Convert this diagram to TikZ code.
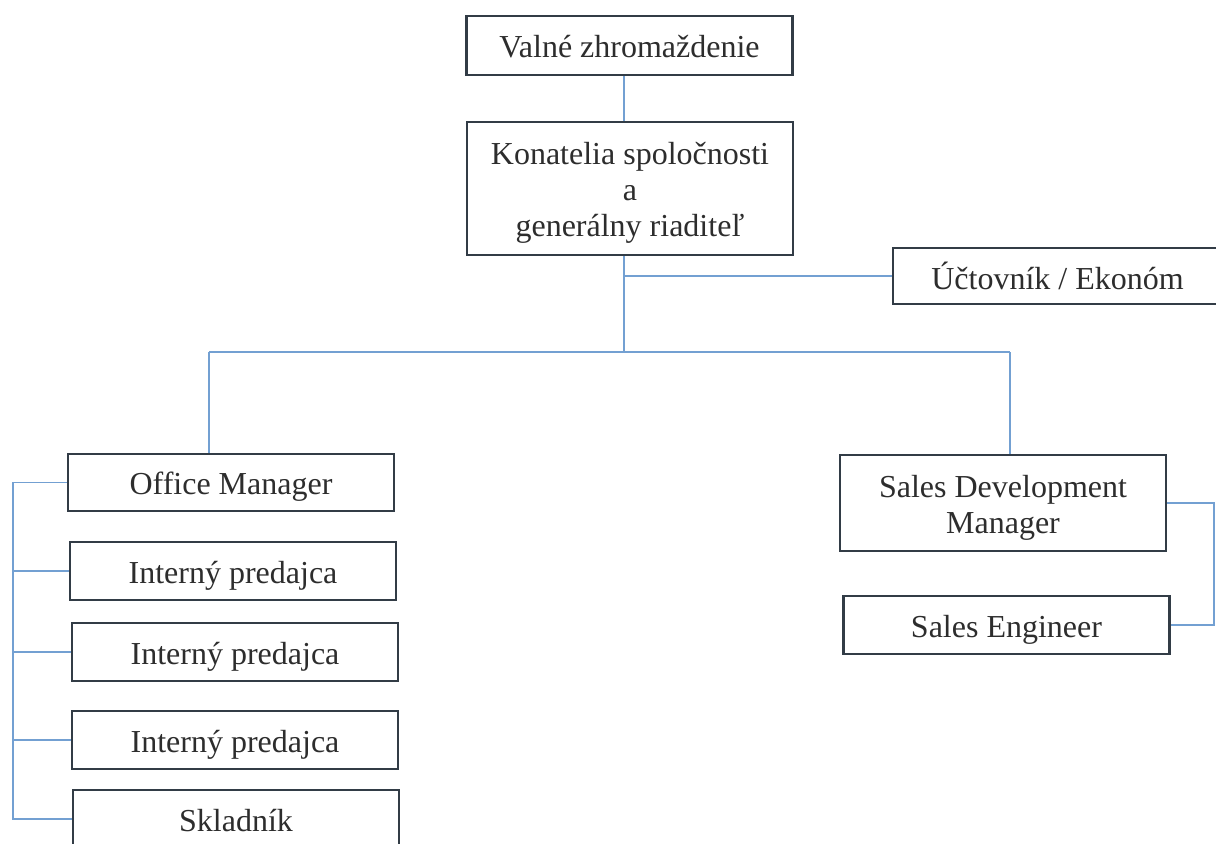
\documentclass[tikz,border=0pt]{standalone}
\usepackage{fontspec}
\setmainfont{Liberation Serif}
\definecolor{boxline}{RGB}{50,60,70}
\definecolor{txt}{RGB}{45,45,45}
\definecolor{conncol}{RGB}{115,160,210}
\newcommand\lowtext[1]{\raisebox{-2.5pt}[\height][\depth]{\begin{tabular}{@{}c@{}}#1\end{tabular}}}
\begin{document}
\begin{tikzpicture}[x=0.5pt,y=-0.5pt,
  orgbox/.style={draw=boxline, line width=1.3pt, fill=white, inner sep=0pt,
    minimum width=163pt, minimum height=29pt, text=txt,
    font=\fontsize{16}{18}\selectfont},
  conn/.style={draw=conncol, line width=0.7pt}]
\useasboundingbox (0,0) rectangle (1216,843);
\clip (0,0) rectangle (1216,843);
% nodes
\node[orgbox, minimum height=29.5pt] (valne) at (629.5,45.5) {\lowtext{Valné zhromaždenie}};
\node[orgbox, minimum height=66.5pt] (konat) at (630,188.5) {\lowtext{Konatelia spoločnosti\\a\\generálny riaditeľ}};
\node[orgbox, minimum width=164.5pt, minimum height=28pt] (uct) at (1057.5,276) {\lowtext{Účtovník / Ekonóm}};
\node[orgbox, minimum height=28.5pt] (office) at (231,482.5) {\lowtext{Office Manager}};
\node[orgbox] (int1) at (233,571) {\lowtext{Interný predajca}};
\node[orgbox] (int2) at (235,652) {\lowtext{Interný predajca}};
\node[orgbox] (int3) at (235,740) {\lowtext{Interný predajca}};
\node[orgbox] (skl) at (236,819) {\lowtext{Skladník}};
\node[orgbox, minimum height=48pt] (sdm) at (1003,503) {\lowtext{Sales Development\\Manager}};
\node[orgbox] (se) at (1006.5,625) {\lowtext{Sales Engineer}};
% junctions
\coordinate (hub) at (624,352);
\coordinate (hl) at (209,352);
\coordinate (hr) at (1010,352);
\coordinate (lb) at (13,0);
\coordinate (rb) at (1214,0);
% connectors
\draw[conn] (valne.south -| hub) -- (konat.north -| hub);
\draw[conn] (konat.south -| hub) -- (hub);
\draw[conn] (uct.west) -- (uct.west -| hub);
\draw[conn] (hl) -- (hr);
\draw[conn] (hl) -- (office.north -| hl);
\draw[conn] (hr) -- (sdm.north -| hr);
\draw[conn] (office.west) -- (office.west -| lb) -- (skl.west -| lb) -- (skl.west);
\draw[conn] (int1.west) -- (int1.west -| lb);
\draw[conn] (int2.west) -- (int2.west -| lb);
\draw[conn] (int3.west) -- (int3.west -| lb);
\draw[conn] (sdm.east) -- (sdm.east -| rb) -- (se.east -| rb) -- (se.east);
\end{tikzpicture}
\end{document}
